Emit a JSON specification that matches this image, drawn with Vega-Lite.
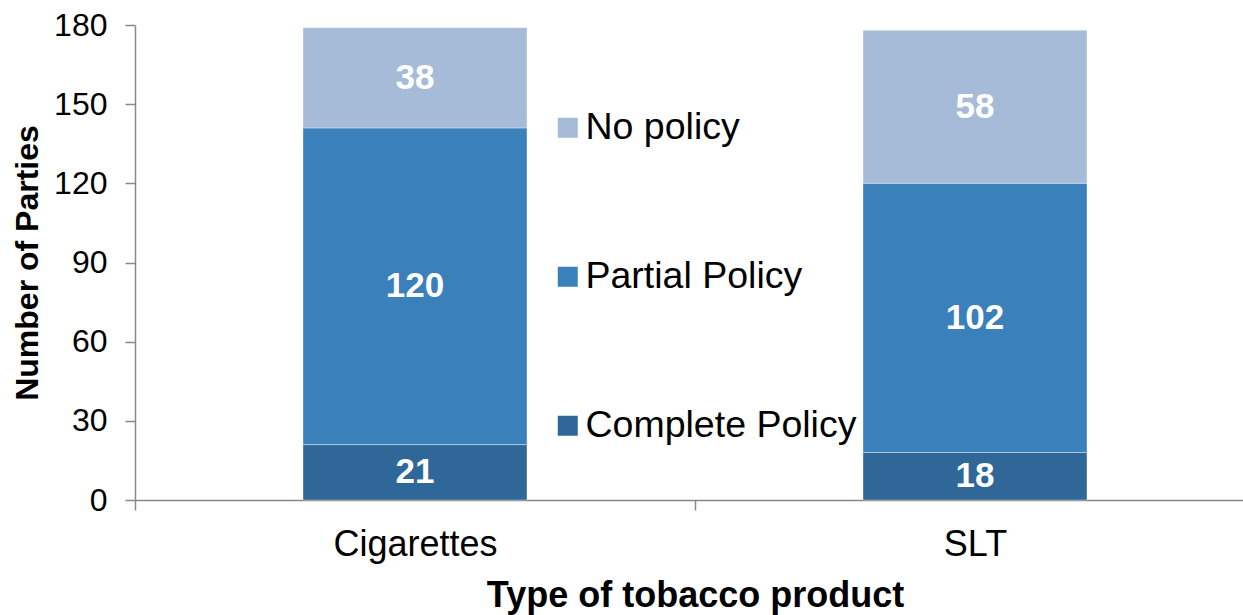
{
  "$schema": "https://vega.github.io/schema/vega-lite/v6.json",
  "autosize": {"type": "none"},
  "padding": {"left": 135, "top": 25, "right": 0, "bottom": 115},
  "width": 1120,
  "height": 475,
  "background": "white",
  "config": {
    "view": {"stroke": null},
    "font": "Liberation Sans",
    "axis": {"grid": false, "domainColor": "#888888", "domainWidth": 1.5, "tickColor": "#888888", "tickWidth": 1.5, "tickSize": 10, "labelColor": "#000000", "titleColor": "#000000", "titleFontWeight": "bold"}
  },
  "data": {
    "values": [
      {"product": "Cigarettes", "policy": "Complete Policy", "rank": 1, "count": 21},
      {"product": "Cigarettes", "policy": "Partial Policy", "rank": 2, "count": 120},
      {"product": "Cigarettes", "policy": "No policy", "rank": 3, "count": 38},
      {"product": "SLT", "policy": "Complete Policy", "rank": 1, "count": 18},
      {"product": "SLT", "policy": "Partial Policy", "rank": 2, "count": 102},
      {"product": "SLT", "policy": "No policy", "rank": 3, "count": 58}
    ]
  },
  "encoding": {
    "x": {
      "field": "product", "type": "nominal", "sort": ["Cigarettes", "SLT"],
      "scale": {"paddingInner": 0, "paddingOuter": 0},
      "axis": {"title": "Type of tobacco product", "labelAngle": 0, "labelFontSize": 36, "labelPadding": 17, "titleFontSize": 36, "titlePadding": 16, "tickBand": "extent"}
    }
  },
  "layer": [
    {
      "mark": {"type": "bar", "width": {"band": 0.4}, "stroke": "#ffffff", "strokeWidth": 0.6, "strokeOpacity": 0.6},
      "encoding": {
        "y": {
          "field": "count", "type": "quantitative", "stack": "zero",
          "scale": {"domain": [0, 180], "nice": false},
          "axis": {"title": "Number of Parties", "values": [0, 30, 60, 90, 120, 150, 180], "labelFontSize": 32, "labelPadding": 18, "titleFontSize": 32, "titlePadding": 9}
        },
        "color": {
          "field": "policy", "type": "nominal",
          "scale": {"domain": ["No policy", "Partial Policy", "Complete Policy"], "range": ["#A6BBD8", "#3A80BA", "#2F6898"]},
          "legend": {"title": null, "orient": "none", "legendX": 414, "legendY": 84, "symbolType": "square", "symbolSize": 400, "symbolStrokeWidth": 0, "labelFontSize": 37.5, "labelColor": "#000000", "labelOffset": -1, "rowPadding": 110, "labelLimit": 400}
        },
        "order": {"field": "rank", "type": "quantitative", "sort": "ascending"}
      }
    },
    {
      "transform": [
        {"stack": "count", "groupby": ["product"], "sort": [{"field": "rank", "order": "ascending"}], "as": ["v0", "v1"]},
        {"fold": ["v0", "v1"], "as": ["edge", "pos"]},
        {"aggregate": [{"op": "mean", "field": "pos", "as": "mid"}], "groupby": ["product", "policy", "count"]}
      ],
      "mark": {"type": "text", "color": "#ffffff", "fontWeight": "bold", "fontSize": 35, "baseline": "middle"},
      "encoding": {
        "y": {"field": "mid", "type": "quantitative", "stack": null, "title": "Number of Parties"},
        "text": {"field": "count", "type": "quantitative"}
      }
    }
  ]
}
